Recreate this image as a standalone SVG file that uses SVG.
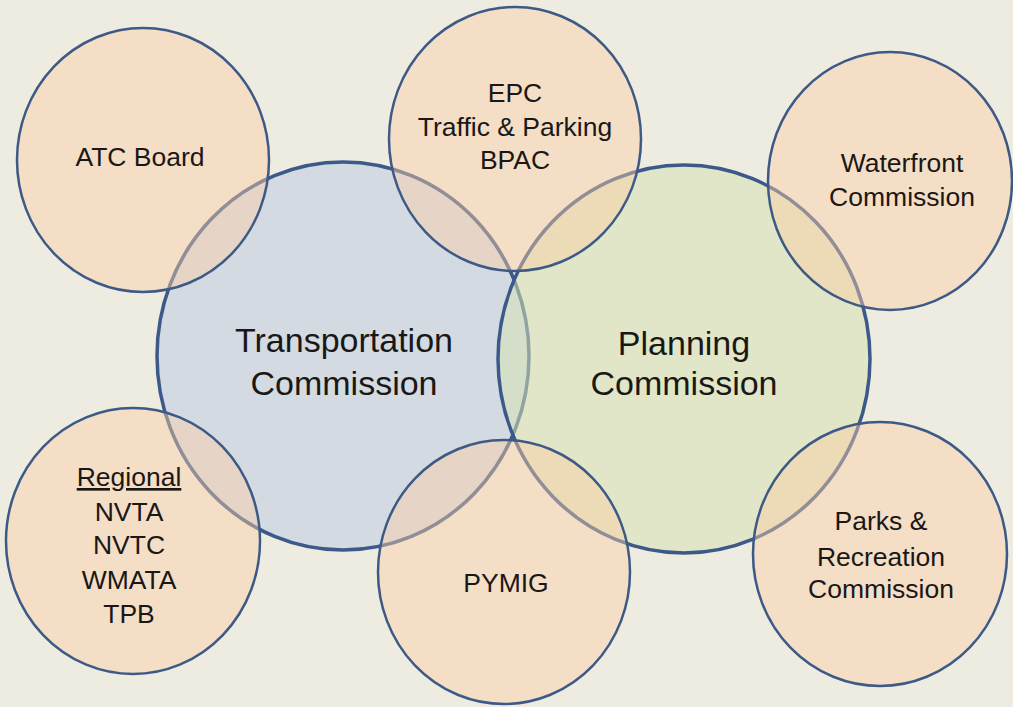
<svg xmlns="http://www.w3.org/2000/svg" width="1013" height="707" viewBox="0 0 1013 707">
<style>
.big{stroke:#3b5a8a;stroke-width:3.5}
.small{fill:#fdcea6;fill-opacity:0.45;stroke:#3d5a86;stroke-width:2.5}
text{font-family:"Liberation Sans",Arial,sans-serif;fill:#1a1816;text-anchor:middle}
.s{font-size:26.5px}
.b{font-size:34px}
</style>
<rect width="1013" height="707" fill="#eeebe0"/>
<g id="connectors"/>
<g id="transportation">
<ellipse class="big" cx="343" cy="356" rx="186" ry="194" fill="#d3dae2"/>
<text class="b" x="344" y="352">Transportation</text>
<text class="b" x="344" y="395">Commission</text>
</g>
<g id="planning">
<ellipse class="big" cx="684" cy="359" rx="186" ry="194" fill="#d5e2b2" fill-opacity="0.55"/>
<text class="b" x="684" y="355">Planning</text>
<text class="b" x="684" y="395">Commission</text>
</g>
<g id="atc">
<ellipse class="small" cx="143" cy="160" rx="126" ry="132"/>
<text class="s" x="140" y="166">ATC Board</text>
</g>
<g id="epc">
<ellipse class="small" cx="515" cy="139" rx="126" ry="132"/>
<text class="s" x="515" y="102">EPC</text>
<text class="s" x="515" y="136">Traffic &amp; Parking</text>
<text class="s" x="515" y="169">BPAC</text>
</g>
<g id="waterfront">
<ellipse class="small" cx="890" cy="181" rx="122" ry="129"/>
<text class="s" x="902" y="172">Waterfront</text>
<text class="s" x="902" y="206">Commission</text>
</g>
<g id="regional">
<ellipse class="small" cx="133" cy="541" rx="127" ry="133"/>
<text class="s" x="129" y="486" text-decoration="underline">Regional</text>
<text class="s" x="129" y="521">NVTA</text>
<text class="s" x="129" y="554">NVTC</text>
<text class="s" x="129" y="589">WMATA</text>
<text class="s" x="129" y="623">TPB</text>
</g>
<g id="pymig">
<ellipse class="small" cx="504" cy="572" rx="126" ry="132"/>
<text class="s" x="506" y="592">PYMIG</text>
</g>
<g id="parks">
<ellipse class="small" cx="880" cy="554" rx="127" ry="132"/>
<text class="s" x="881" y="530">Parks &amp;</text>
<text class="s" x="881" y="566">Recreation</text>
<text class="s" x="881" y="598">Commission</text>
</g>
</svg>
